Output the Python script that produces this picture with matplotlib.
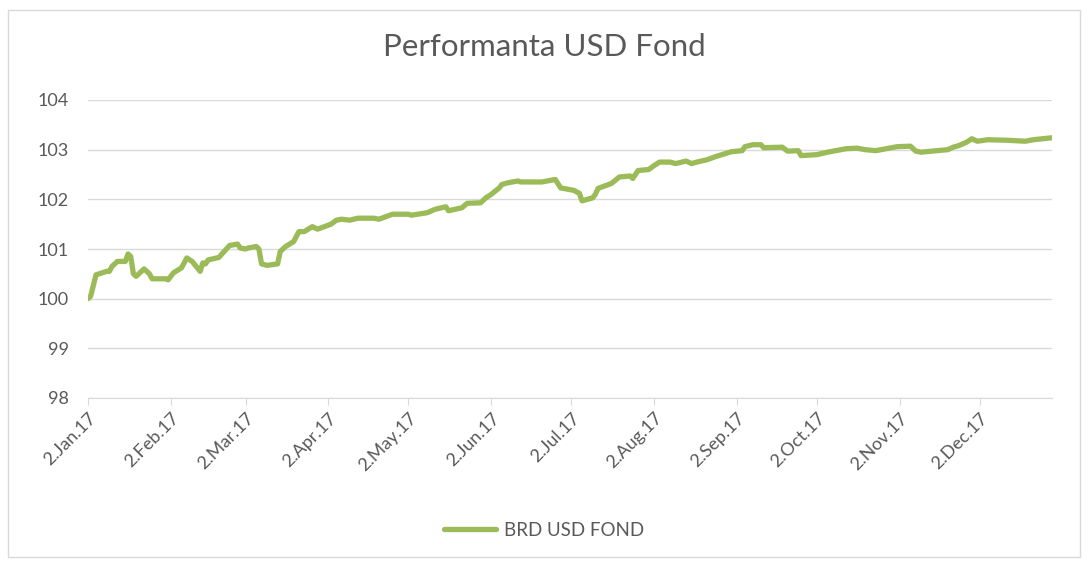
import pandas as pd
import matplotlib.pyplot as plt
import matplotlib.dates as mdates
from matplotlib.patches import Rectangle

# values
dates = ['2017-01-02', '2017-01-03', '2017-01-05', '2017-01-09', '2017-01-10', '2017-01-11',
         '2017-01-13', '2017-01-16', '2017-01-17', '2017-01-18', '2017-01-19', '2017-01-20',
         '2017-01-23', '2017-01-25', '2017-01-26', '2017-01-30', '2017-01-31', '2017-02-01',
         '2017-02-03', '2017-02-06', '2017-02-08', '2017-02-10', '2017-02-13', '2017-02-14',
         '2017-02-15', '2017-02-16', '2017-02-20', '2017-02-22', '2017-02-24', '2017-02-27',
         '2017-02-28', '2017-03-02', '2017-03-03', '2017-03-06', '2017-03-07', '2017-03-08',
         '2017-03-10', '2017-03-14', '2017-03-15', '2017-03-17', '2017-03-20', '2017-03-22',
         '2017-03-24', '2017-03-27', '2017-03-29', '2017-04-03', '2017-04-05', '2017-04-07',
         '2017-04-10', '2017-04-13', '2017-04-19', '2017-04-21', '2017-04-26', '2017-05-02',
         '2017-05-03', '2017-05-09', '2017-05-12', '2017-05-16', '2017-05-17', '2017-05-22',
         '2017-05-24', '2017-05-29', '2017-05-31', '2017-06-02', '2017-06-05', '2017-06-06',
         '2017-06-08', '2017-06-12', '2017-06-13', '2017-06-21', '2017-06-26', '2017-06-28',
         '2017-07-03', '2017-07-05', '2017-07-06', '2017-07-10', '2017-07-11', '2017-07-12',
         '2017-07-17', '2017-07-20', '2017-07-24', '2017-07-25', '2017-07-27', '2017-07-31',
         '2017-08-02', '2017-08-04', '2017-08-08', '2017-08-10', '2017-08-14', '2017-08-16',
         '2017-08-18', '2017-08-22', '2017-08-25', '2017-08-31', '2017-09-04', '2017-09-05',
         '2017-09-08', '2017-09-11', '2017-09-12', '2017-09-19', '2017-09-21', '2017-09-25',
         '2017-09-26', '2017-10-02', '2017-10-06', '2017-10-13', '2017-10-17', '2017-10-20',
         '2017-10-24', '2017-10-26', '2017-11-01', '2017-11-06', '2017-11-08', '2017-11-10',
         '2017-11-14', '2017-11-20', '2017-11-22', '2017-11-24', '2017-11-27', '2017-11-29',
         '2017-12-01', '2017-12-05', '2017-12-12', '2017-12-19', '2017-12-22', '2017-12-29']
values = [100.00, 100.05, 100.48, 100.55, 100.55, 100.65,
          100.75, 100.75, 100.90, 100.85, 100.50, 100.45,
          100.60, 100.50, 100.40, 100.40, 100.40, 100.38,
          100.52, 100.62, 100.82, 100.75, 100.55, 100.72,
          100.70, 100.78, 100.83, 100.95, 101.07, 101.10,
          101.02, 101.00, 101.02, 101.05, 101.00, 100.70,
          100.67, 100.70, 100.95, 101.05, 101.15, 101.35,
          101.35, 101.45, 101.40, 101.50, 101.58, 101.60,
          101.58, 101.62, 101.62, 101.60, 101.70, 101.70,
          101.68, 101.73, 101.80, 101.85, 101.77, 101.83,
          101.92, 101.93, 102.03, 102.10, 102.23, 102.30,
          102.33, 102.37, 102.35, 102.35, 102.40, 102.23,
          102.18, 102.12, 101.97, 102.03, 102.10, 102.22,
          102.32, 102.45, 102.47, 102.42, 102.58, 102.60,
          102.68, 102.75, 102.75, 102.72, 102.77, 102.72,
          102.75, 102.80, 102.86, 102.96, 102.98, 103.06,
          103.10, 103.10, 103.04, 103.05, 102.97, 102.98,
          102.88, 102.90, 102.95, 103.02, 103.03, 103.00,
          102.98, 103.00, 103.06, 103.07, 102.97, 102.95,
          102.97, 103.00, 103.05, 103.08, 103.15, 103.22,
          103.17, 103.20, 103.19, 103.17, 103.20, 103.24]
tick_dates = ['2017-01-02', '2017-02-02', '2017-03-02', '2017-04-02', '2017-05-02', '2017-06-02',
              '2017-07-02', '2017-08-02', '2017-09-02', '2017-10-02', '2017-11-02', '2017-12-02']
series_name = 'BRD USD FOND'

x = pd.to_datetime(dates)
ticks = pd.to_datetime(tick_dates)

plt.rcParams['font.family'] = ['Lato', 'DejaVu Sans']
text_col = '#595959'
grid_col = '#d9d9d9'

fig = plt.figure(figsize=(10.88, 5.61), dpi=100)
ax = fig.add_axes([88 / 1088, 1 - 398 / 561, (1052 - 88) / 1088, 298 / 561])

ax.plot(x, values, color='#9BBB59', linewidth=3.8, solid_joinstyle='round',
        solid_capstyle='round', label=series_name)

ax.set_ylim(98, 104)
ax.set_yticks(range(98, 105))
ax.set_xlim(x[0], x[-1])
ax.set_xticks(ticks)
ax.xaxis.set_major_formatter(mdates.DateFormatter('%-d.%b.%y'))

ax.grid(axis='y', color=grid_col, linewidth=1)
ax.set_axisbelow(True)
for s in ['top', 'right', 'left']:
    ax.spines[s].set_visible(False)
ax.spines['bottom'].set_color(grid_col)
ax.tick_params(axis='y', length=0, labelsize=13, labelcolor=text_col, pad=14)
ax.tick_params(axis='x', length=5, color=grid_col, labelsize=13, labelcolor=text_col)
for lbl in ax.get_xticklabels():
    lbl.set_rotation(45)
    lbl.set_ha('right')
    lbl.set_rotation_mode('anchor')

fig.text(0.5, 1 - 47 / 561, 'Performanta USD Fond', ha='center', va='center',
         fontsize=22.5, color=text_col)

fig.legend(loc='center', bbox_to_anchor=(0.5, 1 - 530 / 561), frameon=False,
           fontsize=13.5, labelcolor=text_col, handlelength=2.8, handletextpad=0.4)

fig.patches.append(Rectangle((8 / 1088, 4 / 561), 1072 / 1088, 547 / 561,
                             transform=fig.transFigure, fill=False,
                             edgecolor=grid_col, linewidth=1))

fig.savefig('out.png', dpi=100)
